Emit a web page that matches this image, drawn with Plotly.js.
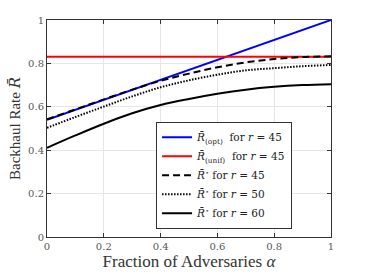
<!DOCTYPE html>
<html><head><meta charset="utf-8">
<script src="https://cdn.plot.ly/plotly-3.0.1.min.js"></script>
<style>html,body{margin:0;padding:0;background:#fff}#c{width:366px;height:274px}</style>
</head><body><div id="c"></div>
<script>
const alpha = [0, 0.1, 0.2, 0.3, 0.4, 0.5, 0.6, 0.7, 0.8, 0.9, 1.0];
const optR45 = [0.54, 0.586, 0.632, 0.678, 0.724, 0.77, 0.816, 0.862, 0.908, 0.954, 1.0];
const unifR45 = [0.831, 0.831, 0.831, 0.831, 0.831, 0.831, 0.831, 0.831, 0.831, 0.831, 0.831];
const starR45 = [0.542, 0.588, 0.634, 0.679, 0.720, 0.753, 0.782, 0.805, 0.820, 0.829, 0.833];
const starR50 = [0.503, 0.553, 0.601, 0.648, 0.690, 0.722, 0.748, 0.768, 0.778, 0.787, 0.793];
const starR60 = [0.411, 0.468, 0.522, 0.570, 0.608, 0.636, 0.660, 0.679, 0.692, 0.700, 0.704];

const SERIF = "DejaVu Serif";
const LSERIF = "Liberation Serif";
const RB = '<span style="font-family:DejaVu Serif;font-style:italic">R\u0304</span>';
const traces = [
  {x: alpha, y: optR45, name: RB + '<sub>(opt)</sub>  for <i>r</i> = 45', mode: 'lines', line: {color: '#0000ff', width: 2}},
  {x: alpha, y: unifR45, name: RB + '<sub>(unif)</sub>  for <i>r</i> = 45', mode: 'lines', line: {color: '#ff0000', width: 2}},
  {x: alpha, y: starR45, name: RB + '<sup>\u22c6</sup> for <i>r</i> = 45', mode: 'lines', line: {color: '#000', width: 2, dash: '7px,4px', shape: 'spline'}},
  {x: alpha, y: starR50, name: RB + '<sup>\u22c6</sup> for <i>r</i> = 50', mode: 'lines', line: {color: '#000', width: 2, dash: '1.5px,1.5px', shape: 'spline'}},
  {x: alpha, y: starR60, name: RB + '<sup>\u22c6</sup> for <i>r</i> = 60', mode: 'lines', line: {color: '#000', width: 2, shape: 'spline'}}
];

const tickv = [0, 0.2, 0.4, 0.6, 0.8, 1];
const tickt = ['0', '0.2', '0.4', '0.6', '0.8', '1'];
const layout = {
  width: 366, height: 274,
  margin: {l: 47, r: 35, t: 20, b: 37},
  paper_bgcolor: '#fff', plot_bgcolor: '#fff',
  font: {family: LSERIF, color: '#333'},
  showlegend: true,
  legend: {x: 0.384, y: 0.531, xanchor: 'left', yanchor: 'top', bgcolor: '#fff', bordercolor: '#333', borderwidth: 1,
    font: {family: SERIF, size: 10.5, color: '#222'}, tracegroupgap: 0, itemwidth: 30},
  xaxis: {range: [0, 1], tickvals: tickv, ticktext: tickt,
    showgrid: true, gridcolor: '#e6e6e6', zeroline: false, showline: true, linecolor: '#333', linewidth: 1, mirror: 'ticks',
    ticks: 'inside', ticklen: 4, tickcolor: '#333', tickfont: {family: SERIF, size: 10, color: '#555'},
    title: {text: 'Fraction of Adversaries <i>\u03b1</i>', font: {family: LSERIF, size: 17, color: '#333'}, standoff: 4}},
  yaxis: {range: [0, 1], tickvals: tickv, ticktext: tickt,
    showgrid: true, gridcolor: '#e6e6e6', zeroline: false, showline: true, linecolor: '#333', linewidth: 1, mirror: 'ticks',
    ticks: 'inside', ticklen: 4, tickcolor: '#333', tickfont: {family: SERIF, size: 10, color: '#555'},
    title: {text: 'Backhaul Rate ' + RB, font: {family: LSERIF, size: 15, color: '#333'}, standoff: 3}}
};
Plotly.newPlot('c', traces, layout, {displayModeBar: false, staticPlot: true});
</script></body></html>
